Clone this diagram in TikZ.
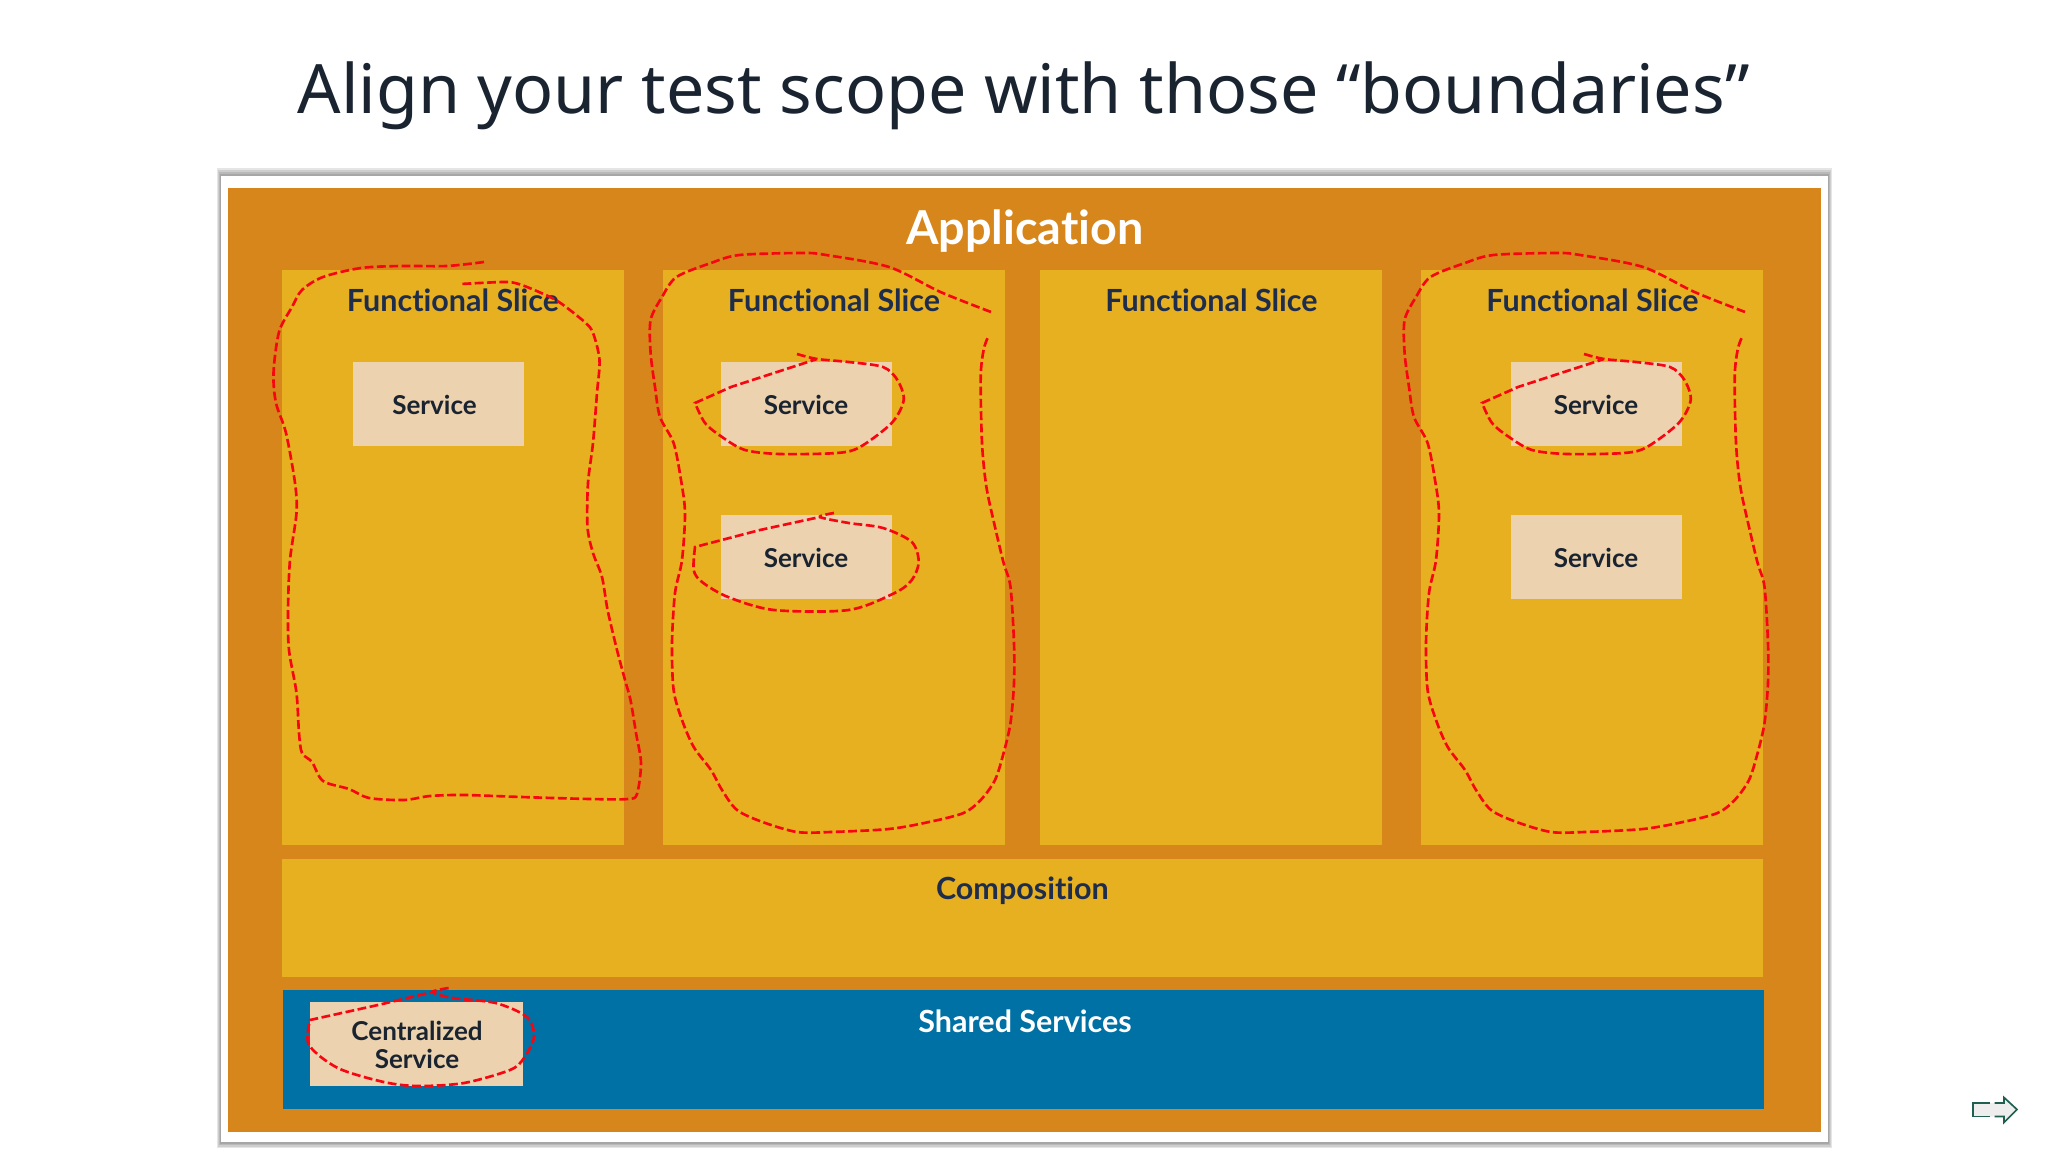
\documentclass[tikz,border=0pt]{standalone}
\usepackage{fontspec}
\setmainfont[Ligatures=NoCommon]{Lato}
\newfontfamily\titlefont{Noto Sans}
\usepackage{tikz}
\usetikzlibrary{positioning}
\definecolor{appOrange}{HTML}{D6861B}
\definecolor{sliceYellow}{HTML}{E6B021}
\definecolor{serviceTan}{HTML}{ECD2AE}
\definecolor{sharedBlue}{HTML}{0071A4}
\definecolor{sliceNavy}{HTML}{1F2D4D}
\definecolor{inkDark}{HTML}{1A2430}
\definecolor{markRed}{HTML}{F70510}
\definecolor{iconGreen}{HTML}{1F5F50}
\tikzset{
  layer/.style={rectangle,inner sep=0pt,anchor=north west},
  slicebox/.style={layer,fill=sliceYellow,minimum width=3.42cm,minimum height=5.74cm},
  servicebox/.style={layer,fill=serviceTan,minimum width=1.71cm,minimum height=0.84cm},
  slicetext/.style={text=sliceNavy,font=\fontsize{8.67}{11}\selectfont\bfseries},
  servicetext/.style={text=inkDark,font=\fontsize{7.4}{7.9}\selectfont\bfseries,align=center},
  redmark/.style={draw=markRed,line width=0.75pt,dash pattern=on 2.5pt off 1pt},
}
\newcommand{\sliceloop}{
  \draw[redmark] plot [smooth] coordinates {(991,312) (940.5,292) (889,267) (826,255) (803,253) (739.6,255) (711,263) (676.5,277) (662,297) (650.6,320) (650.6,353) (655,387) (660,417) (673.6,443) (681,480) (685,513) (682,560) (675,593) (672,643) (673.6,690) (682,720) (693.7,747) (711,770) (722,790) (737,810) (762.5,822) (797,832) (831,832) (889,829) (929,822) (963.5,813) (980.7,800) (995,780) (1003.6,753) (1010.5,723) (1014,683) (1014,643) (1010.5,587) (1003.6,563) (995,527) (986.4,487) (982,443) (980.7,377) (983.6,350) (987.6,338)};
}
\newcommand{\upperloop}{
  \draw[redmark] plot [smooth] coordinates {(797,354) (817,359) (848.7,362) (883,367) (897.4,380) (903.7,400) (891.7,423) (860,447) (837,453) (780,454) (745,450) (722,437) (705,423) (695,403)} -- (731,387) -- (774,373) -- (817,359);
}
\begin{document}
\begin{tikzpicture}[x=0.01cm,y=-0.01cm]
  \useasboundingbox (0,0) rectangle (2048,1152);
  % card and its shadow
  \foreach \w in {4,3,2,1}
    \fill[black,opacity=0.1] (221-\w,176-2*\w) rectangle (1828+\w,1142+1.5*\w);
  \fill[white] (221,176) rectangle (1828,1142);
  \node[anchor=center,text=inkDark,font=\fontsize{19.37}{23}\selectfont\titlefont] (title) at (1023.5,96) {Align your test scope with those “boundaries”};
  % layers
  \node[layer,fill=appOrange,minimum width=15.92cm,minimum height=9.43cm] (application) at (227,187.5) {};
  \node[text=white,font=\fontsize{13.3}{16}\selectfont\bfseries] (applicationtext) at (1025,231.5) {Application};
  \foreach \nm/\x in {A/281,B/662,C/1039,D/1420}
    \node[slicebox] (slice\nm) at (\x,269.5) {};
  \foreach \nm/\x in {A/453,B/834,C/1211.5,D/1592.5}
    \node[slicetext] (slicetext\nm) at (\x,300) {Functional Slice};
  \node[layer,fill=sliceYellow,minimum width=14.80cm,minimum height=1.18cm] (composition) at (281,858.5) {};
  \node[slicetext] (compositiontext) at (1022.4,890.5) {Composition};
  \node[layer,fill=sharedBlue,minimum width=14.80cm,minimum height=1.19cm] (shared) at (282.5,989.5) {};
  \node[slicetext,text=white] (sharedtext) at (1025,1021) {Shared Services};
  % services
  \foreach \nm/\x/\y/\tx in {A/352/361.5/434.5,B/720.5/361.5/806,C/720.5/514.5/806,D/1510/361.5/1596,E/1510/514.5/1596}{
    \node[servicebox] (service\nm) at (\x,\y) {};
    \node[servicetext] (servicetext\nm) at (\tx,\y+43.5) {Service};
  }
  \node[servicebox,minimum width=2.13cm] (central) at (309,1001.5) {};
  \node[servicetext] (centraltext) at (417,1045) {Centralized\\Service};
  % red marks
  \draw[redmark] plot [smooth] coordinates {(484,262) (447,266) (401,266) (361,268) (323,277) (302,290) (292,307) (279,332) (273.5,373) (276,403) (286,433) (295,483) (296.5,513) (290,560) (288,610) (289,650) (296.5,693) (299,733) (302,753) (312,762) (323,781) (349,789) (369,798) (404,800) (430,796) (464,795) (521,797) (590,799) (628,799) (637,794) (641,763) (636,733) (630.5,700) (625,680) (617,650) (607.6,610) (602,577) (593,553) (587.5,527) (588,483) (593,443) (597,393) (599.5,360) (593,333) (584.6,322) (559,302) (539,292) (518.6,284) (504,282) (461,284)};
  \sliceloop
  \begin{scope}[shift={(754,0)}]
    \sliceloop
  \end{scope}
  \upperloop
  \begin{scope}[shift={(787,0)}]
    \upperloop
  \end{scope}
  \draw[redmark] plot [smooth] coordinates {(834,513) (820,517) (848.7,523) (883,528) (911.8,542) (918.7,562) (911.8,580) (894.6,593) (848.7,610) (774,610) (728,597) (702,582) (693.7,570) (695,547)} -- (760,530) -- (820,517);
  \draw[redmark] plot [smooth] coordinates {(448.6,988) (432.5,992) (452.6,998) (495.6,1003) (527,1017) (534,1037) (524,1058) (510,1070) (464,1083) (418,1086) (383.7,1082) (337.8,1068) (309,1045) (310,1020)} -- (378,1005) -- (432.5,992);
  % next arrow
  \fill[black!7] (1973,1103) -- (2004,1103) -- (2004,1097.5) -- (2017,1109.5) -- (2004,1122.5) -- (2004,1116.5) -- (1973,1116.5) -- cycle;
  \draw[iconGreen,line width=0.48pt] (1990,1103) -- (1973,1103) -- (1973,1116.5) -- (1990,1116.5);
  \draw[iconGreen,line width=0.48pt] (1994.5,1103) -- (2004,1103) -- (2004,1097.5) -- (2017,1109.5) -- (2004,1122.5) -- (2004,1116.5) -- (1994.5,1116.5);
\end{tikzpicture}
\end{document}
